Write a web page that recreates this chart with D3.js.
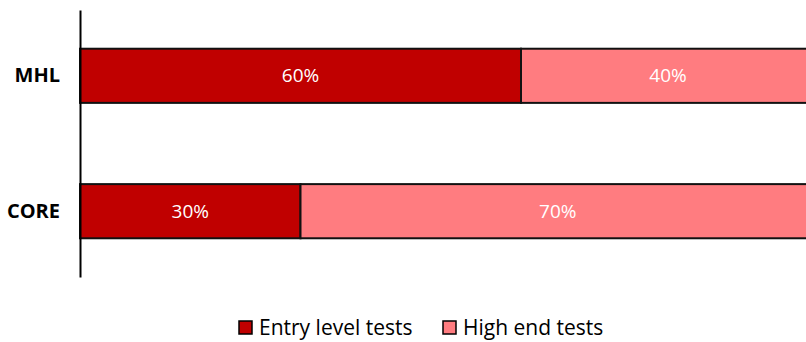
<!DOCTYPE html>
<html>
<head>
<meta charset="utf-8">
<script src="https://cdn.jsdelivr.net/npm/d3@7"></script>
<style>
body { margin: 0; background: #fff; overflow: hidden; }
text { font-family: "Open Sans", "Liberation Sans", sans-serif; }
</style>
</head>
<body>
<script>
var categories = ["MHL", "CORE"];
var seriesNames = ["Entry level tests", "High end tests"];
var entryLevel = [60, 30];
var highEnd = [40, 70];
var colors = ["#C00000", "#FF7C80"];

var width = 806, height = 342;
var svg = d3.select("body").append("svg")
	.attr("width", width)
	.attr("height", height);

var rows = categories.map(function(c, i) {
	return { cat: c, "Entry level tests": entryLevel[i], "High end tests": highEnd[i] };
});
var stacked = d3.stack().keys(seriesNames)(rows);

var x = d3.scaleLinear().domain([0, 100]).range([80, 815]);
var y = d3.scaleBand().domain(categories).range([10, 277]).paddingInner(0.6).paddingOuter(0.286);

var layers = svg.selectAll("g.layer")
	.data(stacked)
	.enter()
	.append("g")
	.attr("class", "layer")
	.attr("fill", function(d, i) { return colors[i]; });

layers.selectAll("rect")
	.data(function(d) { return d; })
	.enter()
	.append("rect")
	.attr("x", function(d) { return x(d[0]); })
	.attr("y", function(d) { return y(d.data.cat); })
	.attr("width", function(d) { return x(d[1]) - x(d[0]); })
	.attr("height", y.bandwidth())
	.attr("stroke", "#111")
	.attr("stroke-width", 2);

layers.selectAll("text")
	.data(function(d) { return d; })
	.enter()
	.append("text")
	.attr("x", function(d) { return (x(d[0]) + x(d[1])) / 2; })
	.attr("y", function(d) { return y(d.data.cat) + y.bandwidth() / 2; })
	.attr("dy", "0.35em")
	.attr("text-anchor", "middle")
	.attr("fill", "#fff")
	.attr("font-size", 19)
	.text(function(d) { return (d[1] - d[0]) + "%"; });

// y axis
var yAxis = svg.append("g")
	.attr("transform", "translate(80,0)")
	.call(d3.axisLeft(y).tickSize(0).tickPadding(20));
yAxis.select(".domain").attr("stroke", "#000").attr("stroke-width", 2);
yAxis.selectAll("text")
	.attr("font-size", 20)
	.attr("font-weight", "bold")
	.attr("fill", "#000");

// legend
var legendX = [239, 443];
var legend = svg.selectAll("g.legend")
	.data(seriesNames)
	.enter()
	.append("g")
	.attr("class", "legend")
	.attr("transform", function(d, i) { return "translate(" + legendX[i] + ",321)"; });
legend.append("rect")
	.attr("width", 13).attr("height", 13)
	.attr("fill", function(d, i) { return colors[i]; })
	.attr("stroke", "#000").attr("stroke-width", 1.5);
legend.append("text")
	.attr("x", 20).attr("y", 7)
	.attr("dy", "0.35em")
	.attr("font-size", 21)
	.attr("fill", "#000")
	.text(function(d) { return d; });
</script>
</body>
</html>
